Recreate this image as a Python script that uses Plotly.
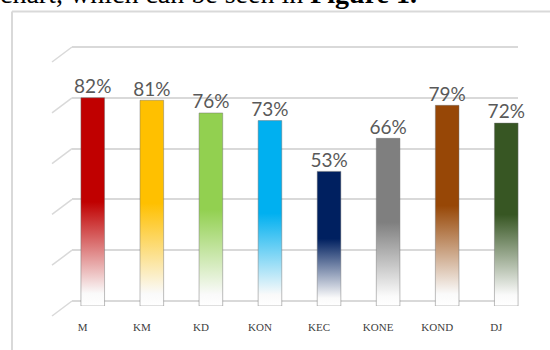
import plotly.graph_objects as go

categories = ["M", "KM", "KD", "KON", "KEC", "KONE", "KOND", "DJ"]
values = [82, 81, 76, 73, 53, 66, 79, 72]
colors = ["#C00000", "#FFC000", "#92D050", "#00B0F0", "#002060", "#7F7F7F", "#974706", "#375623"]
grid_ticks = [0, 20, 40, 60, 80, 100]

W, H = 550, 350
BAR_HALF = 0.2
PX_PER_PCT = (301 - 47) / 100
GRID_TOP = 101
GRID_DOM = [1 - 301 / H, 1 - (301 - GRID_TOP * PX_PER_PCT) / H]

fig = go.Figure()

# invisible trace so the back-wall grid subplot exists
fig.add_trace(go.Scatter(x=[], y=[], xaxis="x", yaxis="y", showlegend=False, hoverinfo="skip"))

# cylinders with vertical gradient
for i, (cat, v, c) in enumerate(zip(categories, values, colors)):
    fig.add_trace(go.Scatter(
        x=[i - BAR_HALF, i + BAR_HALF, i + BAR_HALF, i - BAR_HALF, i - BAR_HALF],
        y=[0, 0, v, v, 0],
        xaxis="x2", yaxis="y2",
        mode="lines", fill="toself",
        line=dict(color="rgba(110,110,110,0.45)", width=1),
        fillgradient=dict(type="vertical",
                          colorscale=[[0, "#ffffff"], [0.06, "#fafafa"], [0.5, c], [1, c]]),
        showlegend=False, name=cat, hoverinfo="skip",
    ))

# value labels
fig.add_trace(go.Scatter(
    x=list(range(len(categories))), y=values, xaxis="x2", yaxis="y2",
    mode="text", text=[f"{v}%" for v in values], textposition="top center",
    textfont=dict(family="Lato", size=19, color="#595959"),
    showlegend=False, hoverinfo="skip",
))

# 3D diagonal edges of the back wall gridlines
shapes = []
for t in grid_ticks:
    yp = GRID_DOM[0] + t / GRID_TOP * (GRID_DOM[1] - GRID_DOM[0])
    shapes.append(dict(type="line", xref="paper", yref="paper",
                       xsizemode="pixel", xanchor=72 / W, x0=-20, x1=0,
                       ysizemode="pixel", yanchor=yp, y0=-15, y1=0,
                       line=dict(color="#d9d9d9", width=1.5)))
# chart frame
shapes.append(dict(type="line", xref="paper", yref="paper", x0=12/W, x1=1, y0=1-11.5/H, y1=1-11.5/H,
                   line=dict(color="#d9d9d9", width=2)))
shapes.append(dict(type="line", xref="paper", yref="paper", x0=12/W, x1=12/W, y0=0, y1=1-11.5/H,
                   line=dict(color="#d9d9d9", width=2)))

fig.update_layout(
    width=W, height=H,
    margin=dict(l=0, r=0, t=0, b=0),
    paper_bgcolor="white", plot_bgcolor="rgba(0,0,0,0)",
    shapes=shapes,
    xaxis=dict(domain=[72/W, 518/W], range=[0, 1], visible=False),
    yaxis=dict(domain=GRID_DOM, range=[0, GRID_TOP], tickvals=grid_ticks,
               showgrid=True, gridcolor="#d9d9d9", gridwidth=1.5,
               zeroline=True, zerolinecolor="#d9d9d9", zerolinewidth=1.5,
               showticklabels=False, ticks="", showline=False),
    xaxis2=dict(domain=[63.2/W, 535.8/W], range=[-0.5, 7.5], anchor="y2",
                tickvals=list(range(len(categories))), ticktext=categories,
                tickfont=dict(family="Liberation Serif", size=11, color="#404040"),
                ticklabelshift=-10, ticklabelstandoff=13,
                showgrid=False, zeroline=False, showline=False, ticks=""),
    yaxis2=dict(domain=[1-306/H, 1-52/H], range=[0, 100], anchor="x2", visible=False),
    annotations=[dict(text="chart, which can be seen in <b>Figure 1.</b>",
                      xref="paper", yref="paper", x=0, y=1, xanchor="left", yanchor="bottom",
                      yshift=-11, xshift=-2, showarrow=False,
                      font=dict(family="Liberation Serif", size=28, color="black"))],
)

fig.write_html("out.html")
